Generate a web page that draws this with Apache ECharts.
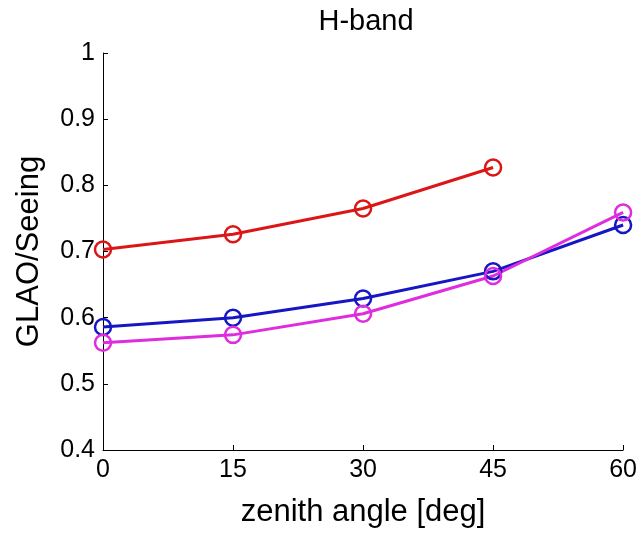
<!DOCTYPE html>
<html>
<head>
<meta charset="utf-8">
<script src="https://cdn.jsdelivr.net/npm/echarts@6/dist/echarts.min.js"></script>
<style>
  html, body { margin: 0; padding: 0; background: #fff; }
  #chart { width: 640px; height: 533px; }
</style>
</head>
<body>
<div id="chart"></div>
<script>
const angles = [0, 15, 30, 45, 60];
const redValues = [0.703, 0.726, 0.765, 0.827];
const blueValues = [0.586, 0.600, 0.629, 0.670, 0.740];
const magentaValues = [0.562, 0.574, 0.606, 0.663, 0.759];

const pairs = (vals) => vals.map((v, i) => [angles[i], v]);

const font = "Liberation Sans, Arial, sans-serif";

const chart = echarts.init(document.getElementById("chart"));

const lineSeries = (name, vals, color) => ({
  name,
  type: "line",
  data: pairs(vals),
  symbol: "circle",
  symbolSize: 16,
  showSymbol: true,
  lineStyle: { width: 3, color },
  itemStyle: { color: "transparent", borderColor: color, borderWidth: 2.5 },
  emphasis: { disabled: true },
  animation: false,
});

chart.setOption({
  animation: false,
  title: {
    text: "H-band",
    left: 361,
    top: 2,
    textAlign: "center",
    textStyle: { fontFamily: font, fontWeight: "normal", fontSize: 29, color: "#000" },
  },
  grid: { left: 103, right: 15, top: 53, bottom: 81 },
  xAxis: {
    type: "value",
    min: 0,
    max: 60,
    interval: 15,
    name: "zenith angle [deg]",
    nameLocation: "middle",
    nameGap: 47,
    nameTextStyle: { fontFamily: font, fontSize: 31, color: "#000" },
    axisLine: { lineStyle: { color: "#000", width: 1 } },
    axisTick: { inside: true, length: 5, lineStyle: { color: "#000" } },
    axisLabel: { fontFamily: font, fontSize: 25, color: "#000", margin: 8 },
    splitLine: { show: false },
  },
  yAxis: {
    type: "value",
    min: 0.4,
    max: 1,
    interval: 0.1,
    name: "GLAO/Seeing",
    nameLocation: "middle",
    nameGap: 58,
    nameTextStyle: { fontFamily: font, fontSize: 31, color: "#000" },
    axisLine: { show: true, lineStyle: { color: "#000", width: 1 } },
    axisTick: { show: true, inside: true, length: 5, lineStyle: { color: "#000" } },
    axisLabel: { fontFamily: font, fontSize: 25, color: "#000", margin: 8 },
    splitLine: { show: false },
  },
  series: [
    lineSeries("red", redValues, "#dc1616"),
    lineSeries("blue", blueValues, "#1616c4"),
    lineSeries("magenta", magentaValues, "#de2cde"),
  ],
});
</script>
</body>
</html>
